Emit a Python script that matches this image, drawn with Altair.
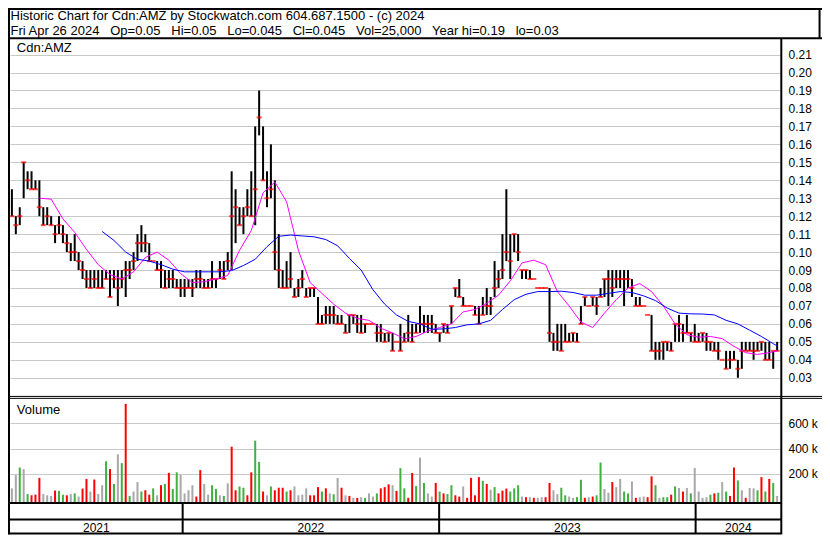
import altair as alt
import pandas as pd

FONT = "Liberation Sans"
GRID = "#c8c8c8"

HEADER_LINE_1 = "Historic Chart for Cdn:AMZ by Stockwatch.com 604.687.1500 - (c) 2024"
HEADER_LINE_2 = ("Fri Apr 26 2024 \u00a0 Op=0.05 \u00a0 Hi=0.05 \u00a0 Lo=0.045 \u00a0 Cl=0.045"
                 " \u00a0 Vol=25,000 \u00a0 Year hi=0.19 \u00a0 lo=0.03")
PRICE_PANEL_LABEL = "Cdn:AMZ"
VOLUME_PANEL_LABEL = "Volume"
YEAR_LABELS = ["2021", "2022", "2023", "2024"]
YEAR_STARTS = ["2022-01-01T00:00:00", "2023-01-01T00:00:00", "2024-01-01T00:00:00"]
PRICE_TICKS = [0.03, 0.04, 0.05, 0.06, 0.07, 0.08, 0.09, 0.10, 0.11, 0.12, 0.13,
               0.14, 0.15, 0.16, 0.17, 0.18, 0.19, 0.20, 0.21]
VOLUME_TICKS = [200000, 400000, 600000]

FIRST_DAY, LAST_DAY = "2021-05-03", "2024-04-26"

HIGH = [0.135,0.12,0.125,0.15,0.145,0.145,0.14,0.14,0.125,0.125,
        0.12,0.115,0.12,0.115,0.11,0.105,0.11,0.10,0.095,0.09,
        0.09,0.09,0.09,0.09,0.09,0.09,0.09,0.09,0.09,0.095,
        0.095,0.10,0.11,0.115,0.11,0.105,0.095,0.095,0.095,0.09,
        0.09,0.09,0.085,0.085,0.085,0.085,0.085,0.09,0.09,0.085,
        0.085,0.095,0.085,0.095,0.095,0.10,0.145,0.135,0.125,0.125,
        0.135,0.145,0.17,0.19,0.17,0.145,0.16,0.14,0.11,0.09,
        0.095,0.10,0.08,0.085,0.09,0.08,0.08,0.08,0.075,0.065,
        0.07,0.07,0.07,0.065,0.065,0.06,0.065,0.065,0.065,0.065,
        0.06,0.06,0.06,0.06,0.06,0.055,0.055,0.055,0.05,0.06,
        0.055,0.065,0.06,0.06,0.07,0.065,0.065,0.065,0.06,0.055,
        0.06,0.06,0.07,0.08,0.085,0.075,0.07,0.07,0.07,0.07,
        0.075,0.08,0.075,0.095,0.09,0.11,0.135,0.11,0.11,0.11,
        0.09,0.09,0.09,0.085,0.08,0.08,0.08,0.08,0.055,0.06,
        0.06,0.06,0.055,0.055,0.055,0.07,0.075,0.07,0.075,0.075,
        0.08,0.085,0.09,0.09,0.09,0.09,0.09,0.09,0.085,0.075,
        0.075,0.07,0.065,0.065,0.05,0.05,0.05,0.05,0.05,0.06,
        0.065,0.06,0.065,0.055,0.06,0.055,0.055,0.055,0.05,0.05,
        0.05,0.04,0.045,0.045,0.045,0.04,0.05,0.05,0.05,0.05,
        0.05,0.05,0.05,0.05,0.045,0.05]

LOW = [0.12,0.11,0.115,0.13,0.135,0.135,0.135,0.12,0.115,0.115,
       0.115,0.105,0.11,0.105,0.10,0.095,0.095,0.09,0.085,0.08,
       0.08,0.08,0.08,0.08,0.085,0.075,0.08,0.07,0.08,0.075,
       0.085,0.09,0.095,0.10,0.10,0.095,0.095,0.09,0.08,0.08,
       0.08,0.08,0.08,0.075,0.075,0.08,0.075,0.08,0.08,0.08,
       0.08,0.08,0.08,0.085,0.085,0.09,0.09,0.105,0.115,0.11,
       0.12,0.12,0.115,0.165,0.14,0.125,0.13,0.09,0.08,0.08,
       0.08,0.08,0.075,0.075,0.08,0.075,0.075,0.075,0.06,0.06,
       0.06,0.06,0.06,0.06,0.06,0.055,0.055,0.06,0.055,0.055,
       0.055,0.06,0.06,0.05,0.05,0.05,0.05,0.045,0.05,0.045,
       0.05,0.05,0.05,0.055,0.055,0.055,0.055,0.055,0.055,0.05,
       0.055,0.055,0.06,0.075,0.075,0.07,0.07,0.07,0.065,0.06,
       0.065,0.065,0.065,0.075,0.08,0.085,0.095,0.085,0.10,0.095,
       0.085,0.085,0.085,0.085,0.08,0.08,0.08,0.05,0.045,0.045,
       0.045,0.05,0.05,0.05,0.05,0.06,0.07,0.07,0.07,0.065,
       0.075,0.075,0.07,0.075,0.08,0.08,0.07,0.08,0.075,0.07,
       0.07,0.07,0.065,0.045,0.04,0.04,0.04,0.045,0.045,0.05,
       0.05,0.05,0.055,0.05,0.05,0.05,0.05,0.045,0.045,0.045,
       0.04,0.04,0.035,0.035,0.04,0.03,0.035,0.045,0.045,0.04,
       0.045,0.045,0.04,0.04,0.035,0.045]

CLOSE = [0.12,0.115,0.12,0.15,0.14,0.135,0.135,0.125,0.115,0.12,
         0.115,0.11,0.115,0.11,0.105,0.10,0.10,0.095,0.09,0.085,
         0.08,0.085,0.08,0.08,0.085,0.075,0.085,0.08,0.085,0.09,
         0.09,0.095,0.105,0.105,0.105,0.095,0.095,0.09,0.09,0.08,
         0.085,0.085,0.08,0.08,0.08,0.08,0.08,0.085,0.085,0.08,
         0.08,0.085,0.085,0.09,0.085,0.095,0.12,0.125,0.115,0.12,
         0.125,0.12,0.135,0.175,0.14,0.13,0.135,0.10,0.09,0.08,
         0.08,0.085,0.075,0.08,0.085,0.075,0.08,0.08,0.06,0.06,
         0.065,0.065,0.065,0.06,0.06,0.055,0.065,0.065,0.06,0.055,
         0.06,0.06,0.06,0.055,0.055,0.05,0.055,0.045,0.05,0.045,
         0.05,0.055,0.05,0.055,0.06,0.06,0.06,0.06,0.055,0.055,
         0.06,0.055,0.07,0.08,0.075,0.07,0.07,0.07,0.065,0.06,
         0.065,0.07,0.07,0.08,0.085,0.09,0.10,0.095,0.11,0.10,
         0.09,0.09,0.085,0.085,0.08,0.08,0.08,0.055,0.05,0.05,
         0.045,0.05,0.05,0.055,0.05,0.06,0.075,0.07,0.075,0.07,
         0.075,0.085,0.085,0.08,0.085,0.085,0.085,0.085,0.08,0.07,
         0.07,0.07,0.065,0.045,0.045,0.045,0.05,0.05,0.045,0.06,
         0.06,0.055,0.055,0.055,0.05,0.05,0.055,0.05,0.05,0.045,
         0.045,0.04,0.035,0.04,0.04,0.035,0.045,0.045,0.045,0.045,
         0.045,0.05,0.04,0.04,0.045,0.045]

VOLUME_K = [85,190,250,237,40,30,35,168,40,30,
            25,68,65,35,30,40,45,20,83,160,
            60,155,40,110,300,238,120,355,285,755,
            25,60,135,60,70,35,85,30,110,120,
            208,80,212,192,45,70,110,20,230,120,
            35,110,80,30,25,125,415,70,100,90,
            30,212,463,295,60,30,100,70,90,90,
            60,70,100,30,35,85,30,30,95,60,
            85,45,38,168,90,30,25,10,10,15,
            10,45,20,45,85,95,117,110,65,245,
            85,10,207,103,328,128,45,20,128,60,
            45,40,110,30,20,100,10,168,30,174,
            145,120,75,95,45,67,83,60,85,110,
            20,15,15,10,10,15,15,128,70,40,
            90,30,20,10,15,153,10,15,20,30,
            290,80,50,135,95,160,60,45,140,10,
            15,20,15,180,110,10,15,15,35,100,
            88,60,88,45,247,60,10,15,35,45,
            50,135,60,25,250,148,70,10,88,85,
            70,174,60,160,128,25]

# g = up day (green), r = down day (red), n = unchanged (grey)
DIRECTION = list("nngngrrrnn" "nrggrngnrr" "nrnngrgngr" "gnngrrgnrg" "rggnnnnrrn"
                 "nggngnrrgg" "rrggrngrrr" "grnnnnrrrg" "rngnrnrnrn" "gnngrrrnrg"
                 "grrgngnnrg" "rggrrnrrrr" "grngrrrggg" "nrnrnnrrnn" "ggnnggrnrg"
                 "gnnrnnggnr" "nnrrgnggrg" "nrngnnnngr" "gngrrgnrnn" "grgrgn")

# moving averages, read every third bar
MA_SHORT = [0.130,0.1295,0.1185,0.111,0.1015,0.093,0.0875,0.085,0.089,0.097,
            0.100,0.0955,0.088,0.083,0.0835,0.085,0.087,0.101,0.112,0.133,
            0.139,0.128,0.101,0.083,0.077,0.071,0.066,0.063,0.062,0.0576,
            0.055,0.0517,0.053,0.056,0.058,0.060,0.0667,0.068,0.0715,0.076,
            0.084,0.094,0.0955,0.093,0.078,0.070,0.061,0.058,0.066,0.0735,
            0.080,0.0825,0.078,0.070,0.060,0.054,0.0526,0.053,0.0518,0.0475,
            0.044,0.043,0.044,0.045]
MA_LONG = [0.1115,0.1065,0.100,0.096,0.095,0.093,0.0905,0.089,0.089,0.089,
           0.089,0.0897,0.0925,0.096,0.103,0.1088,0.1095,0.109,0.1085,0.107,
           0.1035,0.0965,0.090,0.079,0.071,0.065,0.0614,0.060,0.057,0.0572,
           0.058,0.0595,0.060,0.062,0.068,0.0735,0.0765,0.078,0.078,0.0782,
           0.0775,0.076,0.076,0.077,0.078,0.0775,0.0756,0.073,0.0688,0.066,
           0.0656,0.0655,0.065,0.062,0.060,0.0565,0.053,0.049,0.0478]

n = len(HIGH)
assert len(LOW) == n and len(CLOSE) == n and len(VOLUME_K) == n and len(DIRECTION) == n
short_idx = list(range(7, n, 3)) + [n - 1]
long_idx = list(range(23, n, 3)) + [n - 1]
assert len(short_idx) == len(MA_SHORT) and len(long_idx) == len(MA_LONG)

dates = pd.date_range(FIRST_DAY, LAST_DAY, periods=n).strftime("%Y-%m-%dT%H:%M:%S")
dir_name = {"g": "up", "r": "down", "n": "flat"}
bars = pd.DataFrame({"date": dates, "high": HIGH, "low": LOW, "close": CLOSE,
                     "vol": [v * 1000 for v in VOLUME_K],
                     "dir": [dir_name[d] for d in DIRECTION]})
ma_s = pd.DataFrame({"date": [dates[i] for i in short_idx], "ma": MA_SHORT})
ma_l = pd.DataFrame({"date": [dates[i] for i in long_idx], "ma": MA_LONG})

DOM_START = pd.Timestamp("2021-04-30T07:00:00")
DOM_END = pd.Timestamp("2024-05-01T12:00:00")
bounds = [DOM_START] + [pd.Timestamp(s) for s in YEAR_STARTS] + [DOM_END]
years = pd.DataFrame({"year": YEAR_LABELS,
                      "mid": [(bounds[k] + (bounds[k + 1] - bounds[k]) / 2).strftime("%Y-%m-%dT%H:%M:%S")
                              for k in range(4)]})
year_lines = pd.DataFrame({"date": YEAR_STARTS})

# ---- layout (chart is 814x527, reference measured on 830x543) ----
SX, SY = 814 / 830, 527 / 543
W, H = 771, 497
def vx(rx): return rx * SX - 2
def vy(ry): return ry * SY - 30

def dt(ts):
    return alt.DateTime(year=ts.year, month=ts.month, date=ts.day, hours=ts.hour)

xscale = alt.Scale(domain=[dt(DOM_START), dt(DOM_END)], nice=False)
xaxis = alt.Axis(title=None, labels=False, ticks=False, domain=False, grid=True,
                 gridColor=GRID, gridWidth=1,
                 values=[dt(pd.Timestamp(s)) for s in YEAR_STARTS])
def X(field, axis=False):
    return alt.X(f"{field}:T", scale=xscale, axis=xaxis if axis else None)

pscale = alt.Scale(domain=[0.03, 0.21], range=[vy(381), vy(48)], zero=False, nice=False)
paxis = alt.Axis(title=None, orient="right", values=PRICE_TICKS, format=".2f", grid=True,
                 gridColor=GRID, domain=False, ticks=False, labelPadding=7,
                 labelFont=FONT, labelFontSize=12, labelColor="black", labelOverlap=False)
vscale = alt.Scale(domain=[0, 600000], range=[vy(506), vy(428)], zero=False, nice=False)
vaxis = alt.Axis(title=None, orient="right", values=VOLUME_TICKS, grid=True, gridColor=GRID,
                 domain=False, ticks=False, labelPadding=7, labelFont=FONT, labelFontSize=12,
                 labelColor="black", labelExpr="datum.value / 1000 + ' k'", labelOverlap=False)
vol_base = -(vy(509.5) - vy(506)) / (vy(506) - vy(428)) * 600000

price_bars = alt.Chart(bars).mark_rule(color="black", strokeWidth=2).encode(
    x=X("date", axis=True),
    y=alt.Y("high:Q", scale=pscale, axis=paxis),
    y2="low:Q")
close_ticks = alt.Chart(bars).mark_tick(color="#ff0000", orient="horizontal", size=5,
                                         thickness=2).encode(
    x=X("date"), y=alt.Y("close:Q", scale=pscale, axis=None))
ma_short_line = alt.Chart(ma_s).mark_line(color="#ff00ff", strokeWidth=1).encode(
    x=X("date"), y=alt.Y("ma:Q", scale=pscale, axis=None))
ma_long_line = alt.Chart(ma_l).mark_line(color="#0000ff", strokeWidth=1).encode(
    x=X("date"), y=alt.Y("ma:Q", scale=pscale, axis=None))
vol_bars = alt.Chart(bars).mark_rule(strokeWidth=2).encode(
    x=X("date"),
    y=alt.Y("vol:Q", scale=vscale, axis=vaxis),
    y2=alt.datum(vol_base),
    color=alt.Color("dir:N", legend=None,
                    scale=alt.Scale(domain=["up", "down", "flat"],
                                    range=["#40b040", "#ff0000", "#a8a8a8"])))
year_text = alt.Chart(years).mark_text(font=FONT, fontSize=12, color="black",
                                       align="center", baseline="alphabetic").encode(
    x=X("mid"), y=alt.value(vy(539.5)), text="year:N")
year_rules = alt.Chart(year_lines).mark_rule(color="black", strokeWidth=2).encode(
    x=X("date"), y=alt.value(vy(510)), y2=alt.value(vy(541.5)))

ONE = alt.Data(values=[{}])
def label(txt, x, y, size):
    return alt.Chart(ONE).mark_text(text=txt, font=FONT, fontSize=size, color="black",
                                    align="left", baseline="alphabetic").encode(
        x=alt.value(x), y=alt.value(y))
def hline(y, x1, x2, w):
    return alt.Chart(ONE).mark_rule(color="black", strokeWidth=w).encode(
        x=alt.value(x1), x2=alt.value(x2), y=alt.value(y))
def vline(x, y1, y2, w):
    return alt.Chart(ONE).mark_rule(color="black", strokeWidth=w).encode(
        x=alt.value(x), y=alt.value(y1), y2=alt.value(y2))

RIGHT = vx(788.5)
frame = [
    hline(-29, -2, 812, 2),                 # outer top
    vline(-1, -30, vy(542.3), 2),           # outer left
    vline(vx(827.5), -30, vy(31.5), 2),     # outer right (header)
    hline(vy(31.2), -2, 812, 2),            # header separator
    vline(RIGHT, vy(31), vy(542.3), 2),     # plot right edge
    hline(vy(400.2), -2, 812, 1),           # price / volume double line
    hline(vy(402.2), -2, 812, 1),
    hline(vy(510), -2, RIGHT, 2),           # volume bottom
    hline(vy(527), -2, RIGHT, 2),           # year strip
    hline(vy(541.5), -2, RIGHT, 2),         # bottom
]
texts = [
    label(HEADER_LINE_1, 0.5, -17.8, 13),
    label(HEADER_LINE_2, 0.5, -3.2, 13),
    label(PRICE_PANEL_LABEL, vx(9), vy(45), 13),
    label(VOLUME_PANEL_LABEL, vx(9), vy(418), 13),
]

chart = alt.layer(
    price_bars, close_ticks, ma_short_line, ma_long_line, vol_bars,
    year_text, year_rules, *frame, *texts
).resolve_scale(y="independent").properties(
    width=W, height=H,
    autosize=alt.AutoSizeParams(type="none"),
    padding={"left": 2, "top": 30, "right": 814 - 2 - W, "bottom": 527 - 30 - H},
    background="white",
).configure_view(stroke=None)

chart.save("out.html", embed_options={"renderer": "svg", "actions": False})
